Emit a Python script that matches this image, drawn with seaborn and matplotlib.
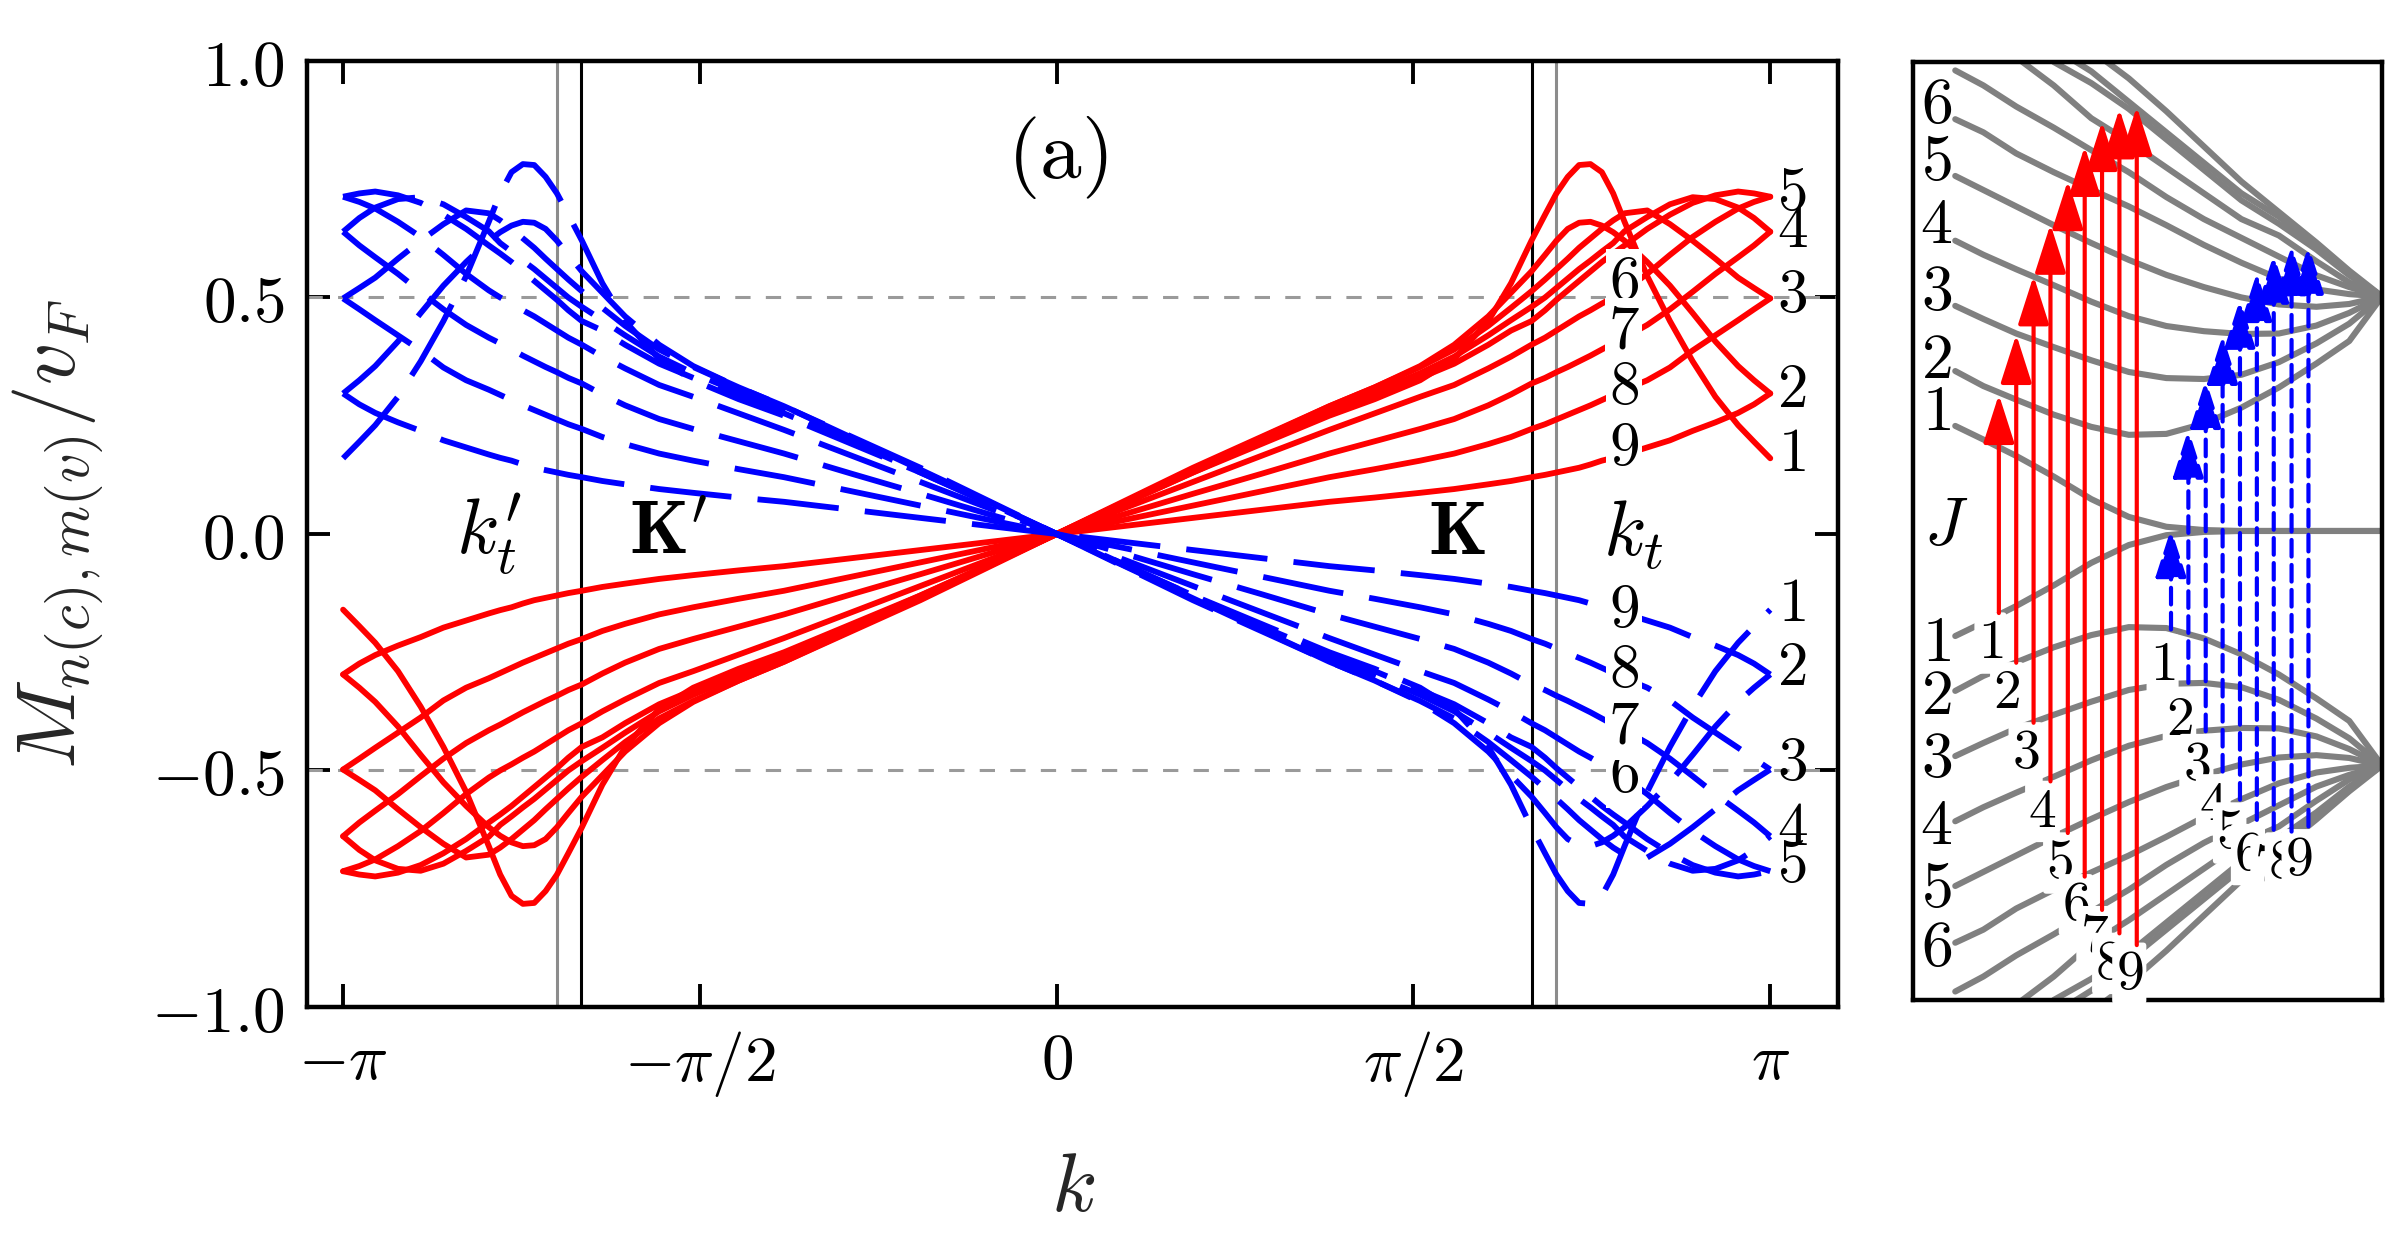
#!/usr/bin/env python3
# Interband matrix elements M_n(k) with the level-scheme inset on the right.

import numpy as np
import pandas as pd
import seaborn as sns
import matplotlib.pyplot as plt

# ---------------- main panel data (red branch, k >= 0) ----------------
# the other three branches follow from the symmetry M(-k) = -M(k), blue = -red
K_GRID = [0.0, 0.3, 0.6, 0.9, 1.2, 1.4, 1.6, 1.75, 1.9, 2.0, 2.09, 2.15, 2.2,
          2.25, 2.3, 2.35, 2.4, 2.45, 2.5, 2.6, 2.7, 2.8, 2.9, 3.0, 3.07, np.pi]
M_1 = [0, .065, .13, .19, .25, .285, .325, .37, .45, .53, .62, .675, .72,
       .755, .78, .782, .765, .72, .66, .545, .45, .365, .29, .23, .195, .16]
M_2 = [0, .07, .14, .205, .27, .31, .355, .40, .46, .51, .555, .59, .62,
       .645, .658, .66, .652, .638, .62, .575, .525, .467, .407, .355, .325, .297]
M_3 = [0, .068, .136, .203, .27, .31, .353, .39, .44, .478, .513, .538, .56,
       .582, .605, .625, .645, .663, .678, .684, .655, .62, .582, .542, .52, .498]
M_4 = [0, .067, .134, .2, .262, .30, .34, .375, .42, .452, .48, .50, .52,
       .54, .56, .578, .597, .615, .64, .67, .697, .712, .708, .69, .668, .639]
M_5 = [0, .065, .13, .195, .255, .29, .33, .36, .40, .43, .45, .473, .495,
       .515, .535, .555, .575, .593, .61, .645, .675, .70, .716, .724, .72, .713]
M_6 = [0, .055, .11, .165, .22, .255, .29, .315, .35, .375, .40, .415, .43,
       .445, .46, .473, .487, .50, .515, .55, .59, .628, .66, .688, .702, .713]
M_7 = [0, .042, .085, .127, .17, .196, .222, .243, .272, .295, .318, .33, .342,
       .353, .365, .377, .39, .403, .415, .442, .475, .512, .55, .585, .61, .639]
M_8 = [0, .03, .06, .09, .12, .137, .155, .17, .19, .205, .222, .232, .242,
       .252, .262, .272, .283, .294, .305, .325, .352, .388, .42, .452, .475, .498]
M_9 = [0, .017, .034, .051, .068, .077, .087, .095, .105, .112, .12, .125, .13,
       .135, .14, .147, .155, .161, .168, .183, .198, .218, .236, .256, .274, .297]
M_LEVELS = [M_1, M_2, M_3, M_4, M_5, M_6, M_7, M_8, M_9]

K_POINT = 2 * np.pi / 3     # Dirac points K, K'
K_T = 2.2                   # k_t

LABEL_K = [3.237] * 5 + [2.496] * 4
RED_LABEL_M = [.17, .304, .505, .643, .72, .533, .428, .311, .181]
BLUE_LABEL_M = [-.147, -.284, -.485, -.622, -.70, -.51, -.407, -.288, -.16]

# ---------------- inset data (level scheme) ----------------
U_GRID = [0.09, 0.15, 0.22, 0.30, 0.38, 0.46, 0.54, 0.62, 0.70, 0.78, 0.86, 0.93, 1.00]
E_1 = [.224, .195, .160, .116, .068, .030, .009, .002, 0, 0, 0, 0, 0]
E_2 = [.341, .309, .280, .248, .222, .205, .207, .229, .263, .306, .357, .405, .5]
E_3 = [.480, .452, .421, .392, .364, .339, .326, .324, .333, .360, .400, .442, .5]
E_4 = [.619, .589, .558, .524, .489, .458, .437, .426, .420, .421, .438, .465, .5]
E_5 = [.757, .727, .692, .652, .614, .578, .546, .520, .498, .483, .478, .484, .5]
E_6 = [.878, .850, .805, .765, .728, .692, .652, .610, .572, .538, .515, .505, .5]
E_7 = [.982, .950, .905, .860, .812, .765, .712, .665, .625, .585, .545, .52, .5]
E_8 = [np.nan, np.nan, 1.01, .950, .880, .830, .775, .72, .665, .63, .575, .53, .5]
E_9 = [np.nan, np.nan, np.nan, 1.0, .955, .90, .835, .77, .705, .655, .60, .545, .5]
E_10 = [np.nan, np.nan, np.nan, 1.03, .98, .915, .85, .785, .72, .67, .608, .55, .5]
E_11 = [np.nan, np.nan, np.nan, np.nan, 1.025, .965, .895, .82, .745, .68, .615, .555, .5]
E_LEVELS = [E_1, E_2, E_3, E_4, E_5, E_6, E_7, E_8, E_9, E_10, E_11]

RED_U = [0.183, 0.220, 0.257, 0.293, 0.330, 0.366, 0.403, 0.440, 0.477]
RED_FROM = [-.175, -.281, -.409, -.534, -.644, -.737, -.808, -.858, -.883]
RED_TO = [.291, .419, .544, .654, .747, .820, .873, .900, .905]
BLUE_U = [0.550, 0.587, 0.624, 0.660, 0.697, 0.733, 0.769, 0.807, 0.843]
BLUE_FROM = [-.210, -.324, -.427, -.513, -.573, -.616, -.637, -.641, -.630]
BLUE_TO = [.005, .217, .323, .417, .494, .551, .590, .608, .609]

SIDE_UP_E = [.252, .363, .508, .651, .786, .907]
SIDE_DOWN_E = [-.239, -.352, -.488, -.630, -.765, -.890]
RED_TAG_U = [.165, .20, .24, .276, .313, .347, .386, .418, .461]
RED_TAG_E = [-.239, -.345, -.473, -.598, -.708, -.797, -.865, -.922, -.943]
BLUE_TAG_U = [.532, .568, .604, .64, .675, .714, .757, .786, .822]
BLUE_TAG_E = [-.285, -.402, -.498, -.584, -.644, -.69, -.715, -.708, -.701]


def main_frame():
    k = np.array(K_GRID)
    rows = []
    for n, vals in enumerate(M_LEVELS, 1):
        v = np.array(vals)
        kk = np.concatenate([-k[:0:-1], k])
        mm = np.concatenate([-v[:0:-1], v])
        for br, sgn in (("c", 1), ("v", -1)):
            rows.append(pd.DataFrame({"k": kk, "M": sgn * mm, "branch": br,
                                      "unit": f"{br}{n}"}))
    return pd.concat(rows, ignore_index=True)


def inset_frame():
    rows = []
    for n, vals in enumerate(E_LEVELS, 1):
        for band, sgn in (("up", 1), ("down", -1)):
            for u, e in zip(U_GRID, vals):
                if np.isnan(e):
                    continue
                rows.append({"u": u, "E": sgn * e, "unit": f"{band}{n}"})
    return pd.DataFrame(rows)


sns.set_theme(style="ticks", rc={"axes.edgecolor": "black", "text.color": "black",
                                 "xtick.color": "black", "ytick.color": "black"})
plt.rcParams["mathtext.fontset"] = "cm"
plt.rcParams["font.family"] = ["DejaVu Serif"]

fig = plt.figure(figsize=(2403 / 200, 1252 / 200), dpi=200)
ax = fig.add_axes([0.1278, 0.1957, 0.6371, 0.7556])
ax_in = fig.add_axes([0.7961, 0.2013, 0.1952, 0.7492])

# ---------------- main panel ----------------
for y0 in (0.5, -0.5):
    ax.axhline(y0, color="#9a9a9a", lw=1.1, dashes=(5, 5), zorder=1)
for xv in (-K_T, K_T):
    ax.axvline(xv, color="#8c8c8c", lw=1.1, zorder=1)
for xv in (-K_POINT, K_POINT):
    ax.axvline(xv, color="black", lw=1.1, zorder=1)

df = main_frame()
sns.lineplot(data=df, x="k", y="M", hue="branch", style="branch", units="unit",
             estimator=None, sort=False, hue_order=["c", "v"],
             palette={"c": "red", "v": "blue"}, dashes={"c": "", "v": (14, 4.5)},
             linewidth=2.1, legend=False, ax=ax, zorder=2)

box = dict(boxstyle="square,pad=0.05", fc="white", ec="none")
for i in range(9):
    kw = dict(ha="center", va="center", fontsize=22, zorder=5)
    if i >= 5:
        kw["bbox"] = box
    ax.text(LABEL_K[i], RED_LABEL_M[i], f"${i + 1}$", **kw)
    ax.text(LABEL_K[i], BLUE_LABEL_M[i], f"${i + 1}$", **kw)

ax.text(0, 0.795, r"$\mathrm{(a)}$", ha="center", va="center", fontsize=30)
ax.text(-2.50, 0.0, r"$k_t^{\prime}$", ha="center", va="center", fontsize=28)
ax.text(2.54, 0.0, r"$k_t$", ha="center", va="center", fontsize=28)
ax.text(-1.71, 0.0, r"$\mathbf{K'}$", ha="center", va="center", fontsize=27)
ax.text(1.76, 0.0, r"$\mathbf{K}$", ha="center", va="center", fontsize=27)

ax.set_xlim(-3.30, 3.44)
ax.set_ylim(-1, 1)
ax.set_xticks([-np.pi, -np.pi / 2, 0, np.pi / 2, np.pi])
ax.set_xticklabels([r"$-\pi$", r"$-\pi/2$", r"$0$", r"$\pi/2$", r"$\pi$"])
ax.set_yticks([-1, -0.5, 0, 0.5, 1])
ax.set_yticklabels([r"$-1.0$", r"$-0.5$", r"$0.0$", r"$0.5$", r"$1.0$"])
ax.tick_params(direction="in", length=8.3, width=1.4, top=True, right=True,
               labelsize=23.5, pad=8)
ax.set_xlabel(r"$k$", fontsize=30, va="center")
ax.set_ylabel(r"$M_{n(c),m(v)}/v_F$", fontsize=30, va="center")
ax.xaxis.set_label_coords(0.5, -0.191)
ax.yaxis.set_label_coords(-0.163, 0.5)
for side in ("top", "right", "bottom", "left"):
    ax.spines[side].set_color("black")
    ax.spines[side].set_linewidth(1.6)

# ---------------- inset: level scheme ----------------
dfi = inset_frame()
sns.lineplot(data=dfi, x="u", y="E", units="unit", estimator=None, sort=False,
             color="gray", linewidth=2.2, legend=False, ax=ax_in, zorder=2)

head = "-|>,head_length=1.5,head_width=0.48"
for u, a, b in zip(RED_U, RED_FROM, RED_TO):
    ax_in.annotate("", xy=(u, b), xytext=(u, a),
                   arrowprops=dict(arrowstyle=head, color="red", lw=1.5,
                                   mutation_scale=10, shrinkA=0, shrinkB=0),
                   zorder=4)
for u, a, b in zip(BLUE_U, BLUE_FROM, BLUE_TO):
    ax_in.annotate("", xy=(u, b), xytext=(u, a),
                   arrowprops=dict(arrowstyle=head, color="blue", lw=1.5,
                                   linestyle=(0, (4, 2)),
                                   mutation_scale=10, shrinkA=0, shrinkB=0),
                   zorder=4)

for i, e in enumerate(SIDE_UP_E):
    ax_in.text(0.05, e, f"${i + 1}$", ha="center", va="center", fontsize=23)
for i, e in enumerate(SIDE_DOWN_E):
    ax_in.text(0.05, e, f"${i + 1}$", ha="center", va="center", fontsize=23)
ax_in.text(0.07, 0.01, r"$J$", ha="center", va="center", fontsize=24)

tag = dict(boxstyle="round,pad=0.06", fc="white", ec="none")
for i in range(9):
    ax_in.text(RED_TAG_U[i], RED_TAG_E[i], f"${i + 1}$", ha="center", va="center",
               fontsize=20, bbox=tag, zorder=3)
    ax_in.text(BLUE_TAG_U[i], BLUE_TAG_E[i], f"${i + 1}$", ha="center", va="center",
               fontsize=20, bbox=tag, zorder=3)

ax_in.set_xlim(0, 1)
ax_in.set_ylim(-1, 1)
ax_in.set_xticks([])
ax_in.set_yticks([])
ax_in.set_xlabel("")
ax_in.set_ylabel("")
for side in ("top", "right", "bottom", "left"):
    ax_in.spines[side].set_color("black")
    ax_in.spines[side].set_linewidth(1.6)

fig.savefig("out.png", dpi=200)
